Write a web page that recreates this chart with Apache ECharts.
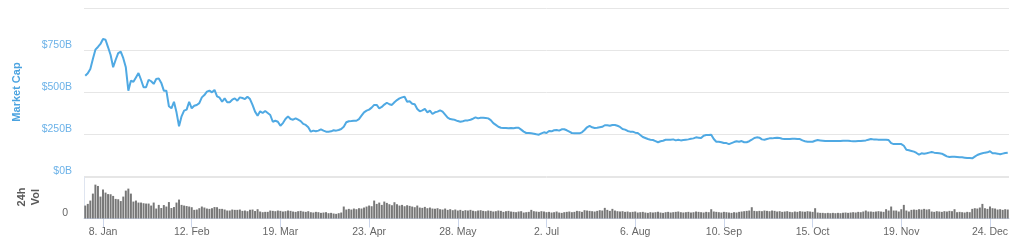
<!DOCTYPE html>
<html>
<head>
<meta charset="utf-8">
<script src="https://cdn.jsdelivr.net/npm/echarts@6/dist/echarts.min.js"></script>
<style>
html,body{margin:0;padding:0;background:#fff;}
#chart{width:1019px;height:252px;}
</style>
</head>
<body>
<div id="chart"></div>
<script>
// Daily data, 1 Jan 2018 .. 31 Dec 2018
const startDate = '2018-01-01';
const dayCount = 365;
const monthNames = ['Jan','Feb','Mar','Apr','May','Jun','Jul','Aug','Sep','Oct','Nov','Dec'];
const tickLabels = ['8. Jan','12. Feb','19. Mar','23. Apr','28. May','2. Jul','6. Aug','10. Sep','15. Oct','19. Nov','24. Dec'];
const capTicks = [0, 250, 500, 750, 1000];

// Market cap, $B
const marketCap = [
  597, 611, 637, 696, 752, 768, 786, 815, 811, 766,
  720, 647, 692, 732, 740, 701, 647, 508, 567, 561,
  587, 613, 573, 528, 528, 573, 564, 548, 577, 581,
  554, 508, 508, 415, 403, 442, 379, 296, 355, 389,
  395, 442, 403, 418, 423, 434, 468, 482, 502, 508,
  498, 512, 474, 466, 442, 462, 439, 439, 454, 462,
  448, 468, 464, 458, 472, 458, 423, 383, 359, 385,
  375, 387, 375, 363, 323, 329, 323, 299, 315, 339,
  355, 339, 335, 343, 335, 327, 310, 304, 290, 264,
  270, 266, 270, 278, 270, 264, 264, 266, 272, 270,
  274, 280, 293, 320, 326, 327, 329, 329, 339, 359,
  379, 389, 395, 407, 423, 423, 403, 411, 425, 436,
  427, 423, 439, 452, 462, 468, 472, 442, 445, 430,
  427, 399, 385, 391, 399, 379, 389, 369, 379, 383,
  391, 383, 365, 347, 339, 337, 333, 327, 323, 326,
  331, 331, 335, 341, 349, 343, 347, 347, 345, 343,
  333, 315, 304, 293, 287, 286, 286, 284, 286, 284,
  287, 287, 276, 264, 256, 256, 254, 252, 248, 246,
  254, 260, 256, 268, 266, 272, 274, 270, 278, 278,
  272, 264, 256, 254, 254, 254, 260, 274, 290, 298,
  290, 286, 287, 290, 293, 302, 302, 299, 304, 304,
  299, 292, 280, 276, 268, 264, 264, 258, 256, 244,
  232, 226, 220, 216, 214, 208, 201, 207, 210, 216,
  216, 216, 218, 212, 216, 212, 214, 216, 218, 222,
  224, 230, 228, 226, 240, 244, 244, 246, 220, 204,
  204, 201, 196, 196, 190, 196, 202, 207, 204, 208,
  201, 201, 207, 216, 226, 230, 228, 218, 216, 220,
  224, 224, 226, 228, 226, 222, 220, 220, 220, 222,
  222, 220, 220, 212, 207, 204, 204, 204, 210, 214,
  212, 210, 208, 208, 208, 208, 208, 208, 208, 210,
  210, 210, 208, 207, 207, 208, 208, 210, 212, 216,
  220, 218, 218, 216, 216, 216, 216, 214, 196, 190,
  190, 190, 190, 180, 156, 153, 149, 145, 137, 127,
  135, 133, 135, 139, 143, 139, 137, 135, 133, 125,
  117, 113, 115, 115, 113, 111, 111, 109, 107, 107,
  105, 115, 125, 131, 135, 139, 141, 147, 135, 135,
  133, 129, 133, 137, 139
];

// 24h volume, $B
const volume = [
  15.6, 17.6, 21.6, 30, 40.8, 39.2, 26.4, 34.8, 31.2, 29.4,
  29.2, 27.2, 23.6, 23.2, 21, 26.4, 33.6, 36, 30, 20.4,
  21.6, 19.2, 19.2, 18.4, 18, 18, 15.6, 19.2, 12, 16.4,
  12.6, 16.2, 14.4, 19.8, 12.6, 13.8, 19.2, 22.8, 16.4, 15.6,
  15, 14.4, 13.6, 10.4, 10.8, 12.4, 14.4, 13.2, 12, 11.6,
  12.4, 13.8, 13.6, 11.6, 11.6, 10.8, 9.6, 9.6, 10.8, 10.4,
  10.4, 10.8, 9.2, 9.6, 8.8, 10.4, 10.8, 9, 11.2, 8.4,
  7.6, 8, 8,
  9.6, 9.2, 8.8, 9.6, 9.2, 8.4, 8.8, 9.6, 9.2, 8.4, 8.0, 8.8, 9.2, 8.4, 8.0, 8.8,
  7.6, 7.2, 8.0, 7.6, 6.8, 7.2, 7.6, 6.4, 6.8, 6.0,
  5.6, 6.4, 7.2, 14.4,
  10.8, 11.6, 10.8, 12.0, 11.2, 12.4, 12.0, 13.2,
  14.4, 15.6, 14.8, 21.6,
  17.6, 19.2, 16.4, 20.4, 18.8, 17.2, 16.0, 19.6, 17.2, 15.6, 16.4, 14.8, 16.0, 15.2,
  14.4, 13.6, 15.6, 13.2, 12.8, 14.0, 12.4, 13.2, 12.0, 11.6, 12.4,
  11.2, 10.8, 12.0, 10.4, 11.2, 10.0, 10.8, 9.6, 10.4, 9.2, 10.0,
  9.6, 10.4, 9.2, 8.8, 9.6, 10.0, 9.2, 8.8, 9.6, 9.2, 8.4, 8.8, 9.6, 9.2, 8.0, 8.8, 9.2, 8.4,
  8.0, 7.6, 8.4, 8.8, 7.2, 7.6, 8.0, 10.4, 8.8, 8.4, 8.0, 8.8, 8.4, 7.6, 8.0, 7.2, 7.6, 8.4, 7.2, 6.8,
  7.6, 8.0, 8.4, 7.6, 8.0, 9.2, 8.8, 8.0,
  10.0, 9.6, 9.2, 8.8, 8.4, 9.2, 10.0, 9.6, 12.8, 10.4, 9.2, 11.6, 9.6, 8.8,
  8.4, 8.8, 8.0, 8.4, 7.6, 8.0, 8.4, 7.2, 7.6, 8.0, 7.2, 6.8, 7.6, 7.2, 7.6, 8.0, 7.2, 6.8, 7.6, 8.0,
  7.2, 7.6, 8.0, 8.4, 7.6, 7.2, 7.6, 8.0, 7.2, 7.6, 8.4, 8.0, 7.6, 7.2, 8.0, 7.6,
  11.2, 8.4, 8.0, 7.6, 7.2, 8.0, 7.6, 7.2, 6.8, 7.6, 7.2, 8.0, 8.4, 8.8, 9.2, 9.6, 13.6, 9.2, 8.8,
  9.2, 8.8, 9.6, 9.2, 8.8, 9.6, 9.2, 8.4, 8.8, 8.0, 8.4, 8.8, 8.0, 7.6, 8.4, 8.0, 8.8, 8.4, 8.0, 8.8, 8.4, 8.0,
  12.4,
  7.2, 6.8, 6.8, 6.4, 6.8, 6.4, 6.8, 6.4, 6.8, 6.4, 6.8, 7.2, 6.8, 7.2, 7.6, 7.2, 8.0, 7.6,
  8.4, 9.6, 8.4, 8.4, 8.0, 8.4, 8.8, 8.4, 8.0,
  11.2, 9.6, 14.4, 9.6, 9.6, 8.4, 11.2, 16.4, 9.6, 8.4,
  10.4, 10.8, 10.4, 11.2, 10.8, 11.6, 10.8, 11.2,
  8.4, 8.0, 8.8, 8.4, 8.0, 8.8, 8.4, 9.2, 8.8, 11.2,
  7.6, 8.0, 7.6, 7.2, 8.0, 7.6,
  11.6, 12.4, 12.0, 13.2,
  17.6,
  12.4, 11.6, 14.4, 12.4,
  12.0, 10.8, 11.2, 10.4, 11.2, 10.8
];

const categories = [];
(function () {
  const d0 = new Date(startDate + 'T00:00:00Z');
  for (let i = 0; i < dayCount; i++) {
    const d = new Date(d0.getTime() + i * 86400000);
    categories.push(d.getUTCDate() + '. ' + monthNames[d.getUTCMonth()]);
  }
})();

const FONT = "'Liberation Sans', Arial, sans-serif";
const showTick = function (idx, val) { return tickLabels.indexOf(categories[idx]) >= 0; };

const chart = echarts.init(document.getElementById('chart'), null, { renderer: 'canvas' });
chart.setOption({
  animation: false,
  backgroundColor: '#ffffff',
  grid: [
    { left: 84, right: 10, top: 8, height: 168 },
    { left: 84, right: 10, top: 177, height: 41.5 }
  ],
  xAxis: [
    {
      type: 'category', gridIndex: 0, data: categories, boundaryGap: true,
      axisLine: { show: false }, axisTick: { show: false }, axisLabel: { show: false }, splitLine: { show: false }
    },
    {
      type: 'category', gridIndex: 1, data: categories, boundaryGap: true,
      axisLine: { show: true, lineStyle: { color: '#ccd6eb', width: 1 } },
      axisTick: { show: true, interval: showTick, alignWithLabel: true, length: 9, lineStyle: { color: '#ccd6eb' } },
      axisLabel: { show: true, interval: showTick, color: '#666666', fontSize: 10.5, fontFamily: FONT, margin: 8 },
      splitLine: { show: false }
    }
  ],
  yAxis: [
    {
      type: 'value', gridIndex: 0, min: capTicks[0], max: capTicks[capTicks.length - 1], interval: capTicks[1] - capTicks[0],
      axisLine: { show: false }, axisTick: { show: false },
      splitLine: { show: true, lineStyle: { color: '#e6e6e6', width: 1 } },
      axisLabel: {
        color: '#6cb2e8', fontSize: 10.5, fontFamily: FONT, margin: 12, verticalAlign: 'bottom', lineHeight: 10,
        formatter: function (v) { return v === 1000 ? '' : '$' + v + 'B'; }
      }
    },
    {
      type: 'value', gridIndex: 1, min: 0, max: 50, interval: 50,
      axisLine: { show: true, lineStyle: { color: '#dfe5f0', width: 1 } }, axisTick: { show: false },
      splitLine: { show: true, lineStyle: { color: '#e6e6e6', width: 1 } },
      axisLabel: {
        color: '#666666', fontSize: 10.5, fontFamily: FONT, margin: 16, verticalAlign: 'bottom', lineHeight: 10,
        formatter: function (v) { return v === 0 ? '0' : ''; }
      }
    }
  ],
  graphic: [
    {
      type: 'text', x: 16.5, y: 92, rotation: Math.PI / 2,
      style: { text: 'Market Cap', font: 'bold 11px ' + FONT, fill: '#4ba3e0', textAlign: 'center', textVerticalAlign: 'middle' }
    },
    {
      type: 'text', x: 29, y: 197, rotation: Math.PI / 2,
      style: { text: '24h\nVol', font: 'bold 11px ' + FONT, fill: '#5a5a5a', textAlign: 'center', textVerticalAlign: 'middle', lineHeight: 13.5 }
    }
  ],
  series: [
    {
      name: 'Market Cap', type: 'line', xAxisIndex: 0, yAxisIndex: 0, data: marketCap,
      symbol: 'none', smooth: false,
      lineStyle: { color: '#4fa9e3', width: 2 }, itemStyle: { color: '#4fa9e3' }
    },
    {
      name: '24h Vol', type: 'bar', xAxisIndex: 1, yAxisIndex: 1, data: volume,
      barWidth: '78%', itemStyle: { color: '#777777' }
    }
  ]
});
</script>
</body>
</html>
